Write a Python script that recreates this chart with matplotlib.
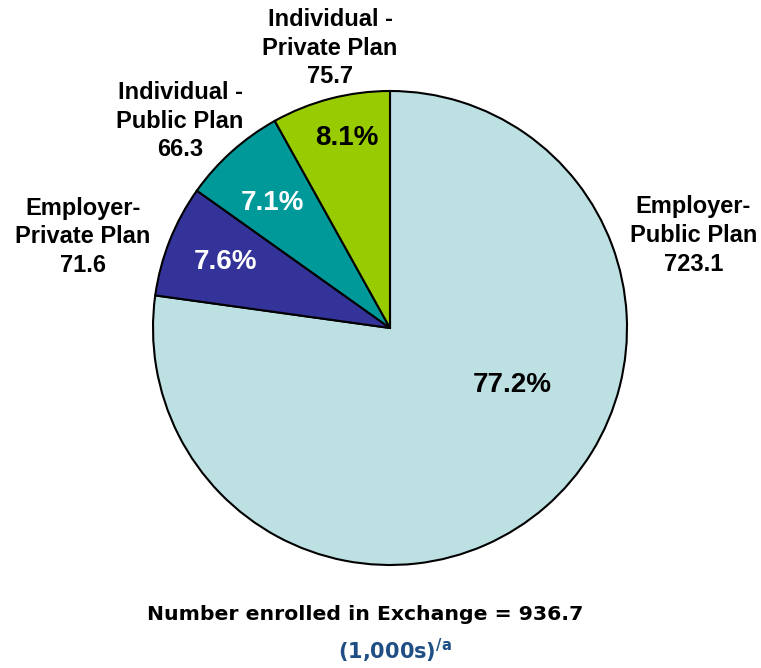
import matplotlib.pyplot as plt

labels = ["Employer-\nPublic Plan", "Employer-\nPrivate Plan", "Individual -\nPublic Plan", "Individual -\nPrivate Plan"]
values = [723.1, 71.6, 66.3, 75.7]
colors = ["#BDE0E3", "#333399", "#009999", "#99CC00"]
pct_colors = ["black", "white", "white", "black"]
total = 936.7

# label positions in pie units (radius = 1)
label_pos = [(1.28, 0.39), (-1.295, 0.384), (-0.886, 0.873), (-0.253, 1.181)]
pct_pos = [(0.515, -0.24), (-0.696, 0.278), (-0.494, 0.527), (-0.181, 0.80)]

W, H = 761, 668
fig = plt.figure(figsize=(W / 100, H / 100), dpi=100)
cx, cy, r = 390, 328, 237
ax = fig.add_axes([(cx - r) / W, 1 - (cy + r) / H, 2 * r / W, 2 * r / H])

ax.pie(values, colors=colors, startangle=90, counterclock=False, radius=1,
       wedgeprops=dict(edgecolor="black", linewidth=1.5))
ax.set_xlim(-1, 1)
ax.set_ylim(-1, 1)
ax.set_aspect("equal")
ax.axis("off")

for lab, v, (x, y) in zip(labels, values, label_pos):
    ax.text(x, y, f"{lab}\n{v:.1f}", ha="center", va="center", fontsize=17,
            fontweight="bold", family="Liberation Sans", linespacing=1.32, clip_on=False)

for v, c, (x, y) in zip(values, pct_colors, pct_pos):
    ax.text(x, y, f"{v / total * 100:.1f}%", ha="center", va="center", fontsize=20,
            fontweight="bold", family="Liberation Sans", color=c)

fig.text(365 / W, 1 - 614 / H, f"Number enrolled in Exchange = {total}", ha="center", va="center",
         fontsize=14.7, fontweight="bold", family="DejaVu Sans")
fig.text(395 / W, 1 - 651 / H, r"(1,000s)$^{\mathbf{/a}}$", ha="center", va="center",
         fontsize=15, fontweight="bold", family="DejaVu Sans", color="#1F4E85")

fig.savefig("out.png", dpi=100)
